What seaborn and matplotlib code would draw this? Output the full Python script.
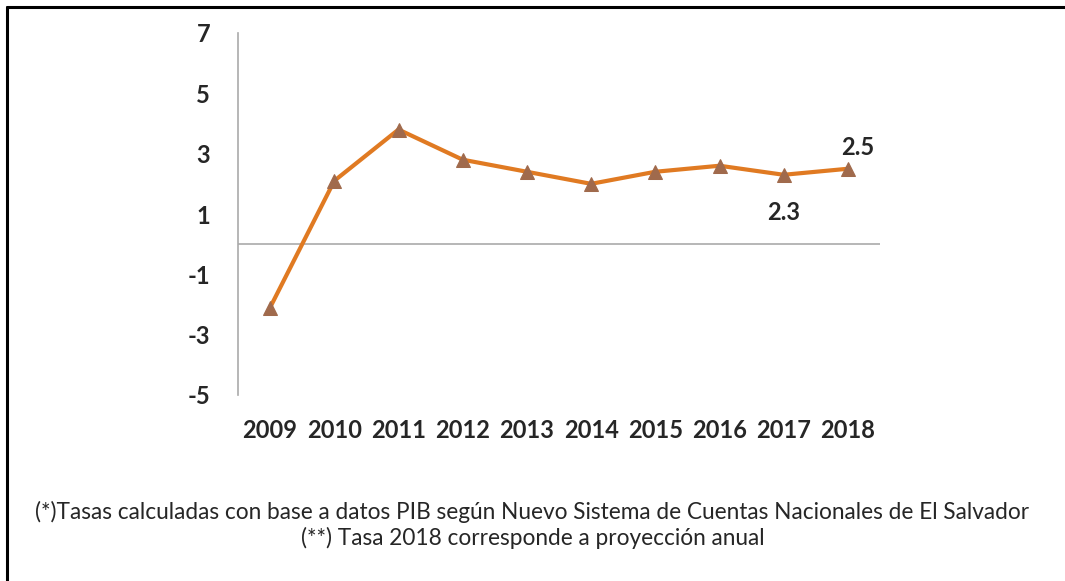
import matplotlib
matplotlib.use("Agg")
import matplotlib.pyplot as plt
from matplotlib.lines import Line2D
import seaborn as sns
import pandas as pd

# data
years = ["2009", "2010", "2011", "2012", "2013", "2014", "2015", "2016", "2017", "2018"]
growth = [-2.1, 2.1, 3.8, 2.8, 2.4, 2.0, 2.4, 2.6, 2.3, 2.5]
y_ticks = [-5, -3, -1, 1, 3, 5, 7]
labels_shown = {"2017": "2.3", "2018": "2.5"}
notes = [
    "(*)Tasas calculadas con base a datos PIB según Nuevo Sistema de Cuentas Nacionales de El Salvador",
    "(**) Tasa 2018 corresponde a proyección anual",
]

df = pd.DataFrame({"year": years, "growth": growth})

sns.set_style("white")
plt.rcParams["font.family"] = ["Lato", "DejaVu Sans"]
plt.rcParams["axes.unicode_minus"] = False

fig = plt.figure(figsize=(10.65, 5.81), dpi=100)
ax = fig.add_axes([238 / 1065, 1 - 395 / 581, 642 / 1065, 362 / 581])

sns.lineplot(data=df, x="year", y="growth", ax=ax, color="#E07A22", linewidth=3,
             marker="^", markersize=10, markerfacecolor="#A06A4C",
             markeredgecolor="#A06A4C", sort=False)

ax.axhline(0, color="#AAAAAA", linewidth=1.2, zorder=0)
ax.set_xlim(-0.5, len(years) - 0.5)
ax.set_ylim(-5, 7)
ax.set_yticks(y_ticks)
ax.set_xlabel("")
ax.set_ylabel("")

for s in ["top", "right", "bottom"]:
    ax.spines[s].set_visible(False)
ax.spines["left"].set_color("#AAAAAA")
ax.spines["left"].set_linewidth(1.2)

ax.tick_params(axis="y", length=0, pad=20, labelsize=17)
ax.tick_params(axis="x", length=0, pad=17, labelsize=17)
for lab in ax.get_xticklabels() + ax.get_yticklabels():
    lab.set_fontweight("bold")

for i, yr in enumerate(years):
    if yr == "2017":
        ax.annotate(labels_shown[yr], (i, growth[i]), xytext=(0, -27),
                    textcoords="offset points", ha="center", va="center",
                    fontsize=17, fontweight="bold")
    elif yr == "2018":
        ax.annotate(labels_shown[yr], (i, growth[i]), xytext=(7, 15),
                    textcoords="offset points", ha="center", va="center",
                    fontsize=17, fontweight="bold")

fig.text(0.5, 1 - 512 / 581, notes[0], ha="center", va="center", fontsize=16.3)
fig.text(0.5, 1 - 538 / 581, notes[1], ha="center", va="center", fontsize=16.3)

# partial frame (top and left edges only)
fig.add_artist(Line2D([7 / 1065, 1], [1 - 7 / 581, 1 - 7 / 581], color="black", linewidth=2.2))
fig.add_artist(Line2D([7 / 1065, 7 / 1065], [0, 1 - 7 / 581], color="black", linewidth=2.2))

fig.savefig("out.png", dpi=100, facecolor="white")
